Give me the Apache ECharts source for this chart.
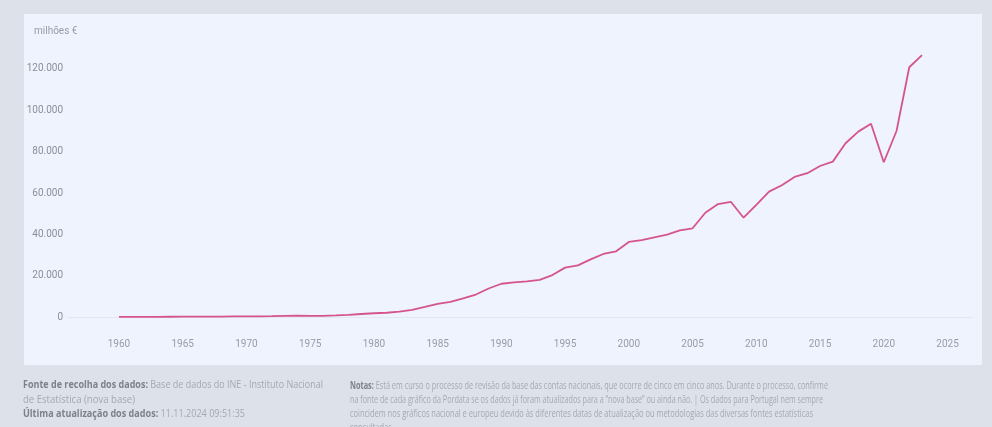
<!DOCTYPE html>
<html>
<head>
<meta charset="utf-8">
<script src="https://cdn.jsdelivr.net/npm/echarts@6/dist/echarts.min.js"></script>
<style>
  html, body { margin:0; padding:0; }
  body { width:992px; height:427px; background:#dde2ea; position:relative; overflow:hidden; font-family:"Open Sans", "Noto Sans", sans-serif; }
  #panel { position:absolute; left:24px; top:14px; width:958px; height:351px; background:#eef3fd; }
  #chart { position:absolute; left:0; top:0; width:992px; height:427px; }
  .ln { position:absolute; white-space:nowrap; font-size:10.5px; line-height:14px; color:#a3a8b1; transform-origin:0 50%; }
  .ln.r { font-size:10px; }
  .ln b { color:#7c818a; font-weight:700; }
</style>
</head>
<body>
<div id="panel"></div>
<div id="chart"></div>
<div class="ln" data-w="300" style="left:23px; top:377px;"><b>Fonte de recolha dos dados:</b> Base de dados do INE - Instituto Nacional</div>
<div class="ln" data-w="112" style="left:23px; top:392px;">de Estatística (nova base)</div>
<div class="ln" data-w="222" style="left:23px; top:406px;"><b>Última atualização dos dados:</b> 11.11.2024 09:51:35</div>
<div class="ln r" data-w="478" style="left:350px; top:378px;"><b>Notas:</b> Está em curso o processo de revisão da base das contas nacionais, que ocorre de cinco em cinco anos. Durante o processo, confirme</div>
<div class="ln r" data-w="473" style="left:350px; top:392px;">na fonte de cada gráfico da Pordata se os dados já foram atualizados para a “nova base” ou ainda não. | Os dados para Portugal nem sempre</div>
<div class="ln r" data-w="463" style="left:350px; top:406px;">coincidem nos gráficos nacional e europeu devido às diferentes datas de atualização ou metodologias das diversas fontes estatísticas</div>
<div class="ln r" style="left:350px; top:420px;">consultadas.</div>
<script>
const years = [];
for (let y = 1960; y <= 2023; y++) years.push(y);
const values = [
  180, 190, 210, 230, 260, 290, 320, 340, 360, 400,
  430, 480, 560, 680, 800, 700, 720, 900, 1150, 1600,
  1950, 2200, 2700, 3600, 5000, 6500, 7500, 9100, 11000, 13900,
  16200, 16900, 17400, 18100, 20400, 24000, 25100, 28000, 30600, 31900,
  36400, 37300, 38600, 39900, 42000, 43000, 50500, 54700, 55800, 48100,
  54300, 60700, 63800, 67800, 69600, 73100, 75200, 84100, 89700, 93500,
  74900, 90000, 120800, 126700
];
const xTicks = [1960, 1965, 1970, 1975, 1980, 1985, 1990, 1995, 2000, 2005, 2010, 2015, 2020, 2025];
const yTicks = [0, 20000, 40000, 60000, 80000, 100000, 120000];
const yUnit = 'milhões €';

const chart = echarts.init(document.getElementById('chart'), null, {renderer:'canvas'});
chart.setOption({
  backgroundColor: 'transparent',
  animation: false,
  title: {
    text: yUnit, left: 29, top: 21,
    textStyle: { fontSize: 10, fontWeight: 'normal', color: '#979ca5', fontFamily: 'Roboto' }
  },
  grid: { left: 68, right: 19, top: 48.2, bottom: 109.7 },
  xAxis: {
    type: 'value', min: 1956, max: 2027, offset: 13.7,
    axisLine: { show: true, lineStyle: { color: '#e2e8f3', width: 1 } },
    axisTick: { show: false },
    splitLine: { show: false },
    axisLabel: {
      customValues: xTicks, margin: 8, color: '#979ca5', fontSize: 10, fontFamily: 'Roboto',
      formatter: v => String(v)
    }
  },
  yAxis: {
    type: 'value', min: 0, max: 130000,
    axisLine: { show: false }, axisTick: { show: false }, splitLine: { show: false },
    axisLabel: {
      customValues: yTicks, margin: 5, color: '#8a8f98', fontSize: 10, fontFamily: 'Roboto',
      formatter: v => v === 0 ? '0' : String(v).replace(/\B(?=(\d{3})+(?!\d))/g, '.')
    }
  },
  series: [{
    type: 'line',
    data: years.map((y, i) => [y, values[i]]),
    symbol: 'none', smooth: false,
    lineStyle: { color: '#d5558a', width: 1.8 },
    itemStyle: { color: '#d5558a' }
  }]
});

document.querySelectorAll('.ln[data-w]').forEach(el => {
  const w = el.getBoundingClientRect().width;
  const target = parseFloat(el.dataset.w);
  el.style.transform = 'scaleX(' + (target / w) + ')';
  el.dataset.scale = target / w;
});
const last = document.querySelectorAll('.ln')[6];
last.style.transform = 'scaleX(' + document.querySelectorAll('.ln')[5].dataset.scale + ')';
</script>
</body>
</html>
